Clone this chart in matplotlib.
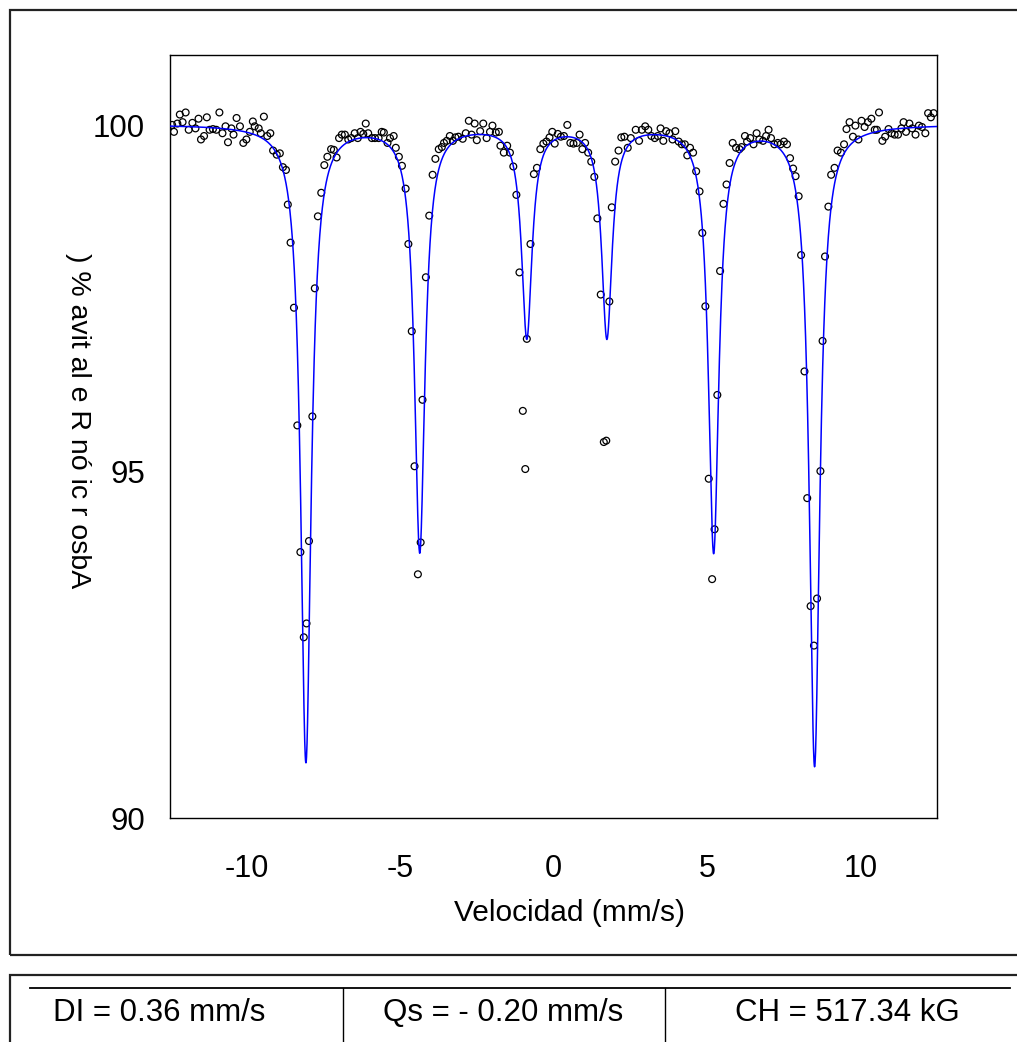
import matplotlib
matplotlib.use('Agg')
import matplotlib.pyplot as plt
import numpy as np
from matplotlib.patches import Rectangle
from matplotlib.lines import Line2D

plt.rcParams['font.family'] = ['Liberation Sans', 'DejaVu Sans']
plt.rcParams['axes.unicode_minus'] = False

# measured spectrum (velocity mm/s, relative absorption %)
vel = [
    -12.43, -12.37, -12.26, -12.18, -12.09, -11.99, -11.89, -11.77, -11.67, -11.57,
    -11.49, -11.39, -11.30, -11.21, -11.10, -10.99, -10.89, -10.79, -10.69, -10.61,
    -10.50, -10.43, -10.33, -10.22, -10.11, -10.01, -9.90, -9.80, -9.74, -9.61,
    -9.54, -9.44, -9.33, -9.23, -9.14, -9.02, -8.92, -8.82, -8.72, -8.66,
    -8.57, -8.46, -8.35, -8.25, -8.14, -8.05, -7.97, -7.86, -7.78, -7.68,
    -7.57, -7.47, -7.37, -7.25, -7.16, -7.07, -6.99, -6.90, -6.80, -6.69,
    -6.59, -6.48, -6.38, -6.29, -6.20, -6.12, -6.04, -5.92, -5.82, -5.70,
    -5.60, -5.53, -5.41, -5.33, -5.21, -5.14, -5.04, -4.94, -4.82,
    -4.73, -4.62, -4.53, -4.42, -4.33, -4.27, -4.16, -4.05,
    -3.94, -3.85, -3.74, -3.64, -3.57, -3.48, -3.38, -3.28, -3.20, -3.10,
    -2.96, -2.86, -2.76, -2.67, -2.57, -2.50, -2.39, -2.29, -2.18, -2.07,
    -1.99, -1.88, -1.78, -1.73, -1.62, -1.51, -1.42, -1.31, -1.21,
    -1.11, -1.00, -0.92, -0.87, -0.75,
    -0.64, -0.54, -0.43, -0.33, -0.23, -0.13, -0.04, 0.04, 0.14, 0.24,
    0.34, 0.45, 0.55, 0.65, 0.76, 0.85, 0.94, 1.03, 1.13, 1.23, 1.33, 1.43,
    1.54, 1.64, 1.72, 1.82, 1.90,
    2.01, 2.12, 2.21, 2.31, 2.42, 2.52, 2.68, 2.79, 2.88, 2.99,
    3.09, 3.19, 3.30, 3.40, 3.49, 3.58, 3.67, 3.78, 3.88, 3.97,
    4.08, 4.18, 4.28, 4.36, 4.45, 4.55, 4.65, 4.76, 4.85, 4.95,
    5.06, 5.17, 5.25, 5.34, 5.43, 5.54,
    5.64, 5.74, 5.84, 5.95, 6.06, 6.13, 6.24, 6.31, 6.41, 6.52,
    6.62, 6.71, 6.83, 6.93, 7.01, 7.09, 7.20, 7.31, 7.40, 7.51,
    7.61, 7.71, 7.81, 7.89, 7.99, 8.07,
    8.18, 8.27, 8.38, 8.49, 8.59, 8.70, 8.77, 8.85,
    8.96, 9.05, 9.16, 9.26, 9.37, 9.47, 9.55, 9.65, 9.76, 9.84,
    9.94, 10.04, 10.14, 10.25, 10.36, 10.47, 10.54, 10.61, 10.72, 10.81,
    10.92, 11.02, 11.12, 11.23, 11.34, 11.41, 11.49, 11.60, 11.69, 11.80,
    11.91, 12.01, 12.12, 12.21, 12.30, 12.39,
]
absorb = [
    100.01, 99.91, 100.03, 100.16, 100.05, 100.19, 99.94, 100.04, 99.96, 100.10,
    99.80, 99.85, 100.12, 99.94, 99.95, 99.94, 100.19, 99.89, 99.99, 99.76,
    99.96, 99.87, 100.11, 99.99, 99.75, 99.80, 99.91, 100.06, 99.99, 99.96,
    99.89, 100.13, 99.85, 99.89, 99.64, 99.58, 99.60, 99.40, 99.36, 98.86,
    98.31, 97.37, 95.67, 93.84, 92.61, 92.81, 94.00, 95.80, 97.65, 98.69,
    99.03, 99.43, 99.55, 99.66, 99.65, 99.54, 99.82, 99.87, 99.87, 99.80,
    99.82, 99.89, 99.82, 99.91, 99.88, 100.03, 99.89, 99.82, 99.82, 99.82,
    99.91, 99.90, 99.75, 99.82, 99.85, 99.68, 99.55, 99.42, 99.09,
    98.29, 97.03, 95.08, 93.52, 93.98, 96.04, 97.81, 98.70,
    99.29, 99.52, 99.66, 99.69, 99.75, 99.78, 99.85, 99.78, 99.83, 99.84,
    99.81, 99.89, 100.07, 99.87, 100.03, 99.79, 99.92, 100.03, 99.82, 99.91,
    100.00, 99.90, 99.91, 99.71, 99.61, 99.71, 99.61, 99.41, 99.00,
    97.88, 95.88, 95.04, 96.92, 98.29,
    99.30, 99.39, 99.66, 99.74, 99.77, 99.83, 99.91, 99.74, 99.88, 99.84,
    99.85, 100.01, 99.75, 99.74, 99.75, 99.87, 99.66, 99.75, 99.61, 99.48, 99.26, 98.66,
    97.56, 95.43, 95.45, 97.46, 98.82,
    99.48, 99.64, 99.83, 99.84, 99.68, 99.82, 99.94, 99.78, 99.94, 99.99,
    99.94, 99.85, 99.82, 99.85, 99.96, 99.78, 99.92, 99.89, 99.80, 99.92,
    99.77, 99.73, 99.73, 99.57, 99.68, 99.61, 99.34, 99.05, 98.45, 97.39,
    94.90, 93.45, 94.17, 96.11, 97.90, 98.87,
    99.15, 99.46, 99.75, 99.68, 99.66, 99.69, 99.85, 99.77, 99.82, 99.73,
    99.89, 99.80, 99.78, 99.85, 99.94, 99.82, 99.73, 99.75, 99.73, 99.77,
    99.73, 99.53, 99.38, 99.27, 98.98, 98.13,
    96.45, 94.62, 93.06, 92.49, 93.17, 95.01, 96.89, 98.11,
    98.83, 99.29, 99.39, 99.64, 99.61, 99.73, 99.95, 100.05, 99.84, 100.00,
    99.80, 100.07, 99.98, 100.05, 100.10, 99.94, 99.94, 100.19, 99.78, 99.84,
    99.95, 99.89, 99.87, 99.87, 99.96, 100.05, 99.91, 100.03, 99.96, 99.87,
    100.00, 99.98, 99.89, 100.18, 100.12, 100.18,
]

# fitted sextet: line positions, depths and half widths
baseline = 100.02
line_pos = [-8.07, -4.36, -0.87, 1.74, 5.22, 8.51]
line_depth = [9.2, 6.15, 3.05, 3.05, 6.15, 9.25]
line_hwhm = [0.205, 0.205, 0.205, 0.205, 0.205, 0.205]

params_text = ['DI = 0.36 mm/s', 'Qs = - 0.20 mm/s', 'CH = 517.34 kG']
ylabel_text = ') % avit al e R nó ic r osbA'


def sextet(v):
    y = np.full_like(v, baseline)
    for p, d, g in zip(line_pos, line_depth, line_hwhm):
        y -= d / (1 + ((v - p) / g) ** 2)
    return y


def main():
    W, H = 1017, 1042
    fig = plt.figure(figsize=(W / 100, H / 100), dpi=100)

    ax = fig.add_axes([170 / W, 1 - 818 / H, 767 / W, 763 / H])
    ax.scatter(vel, absorb, s=24, facecolors='none', edgecolors='black',
               linewidths=0.9, zorder=2)
    vv = np.linspace(-12.5, 12.5, 3001)
    ax.plot(vv, sextet(vv), color='blue', lw=1.1, zorder=3)

    ax.set_xlim(-12.5, 12.5)
    ax.set_ylim(90, 101.02)
    ax.set_xticks([-10, -5, 0, 5, 10])
    ax.set_yticks([90, 95, 100])
    ax.tick_params(axis='x', length=0, pad=26, labelsize=22)
    ax.tick_params(axis='y', length=0, pad=18, labelsize=22.5)
    for s in ax.spines.values():
        s.set_linewidth(1.0)
    ax.set_xlabel('Velocidad (mm/s)', fontsize=21.5)
    ax.xaxis.set_label_coords((569 - 170) / 767, -(899 - 818) / 763)

    fig.text(78 / W, 1 - 421 / H, ylabel_text, rotation=-90, fontsize=20.5,
             ha='center', va='center')

    # outer frames
    fig.add_artist(Rectangle((10 / W, 1 - 955 / H), 1.2, 945 / H, transform=fig.transFigure,
                             fill=False, edgecolor='#222222', lw=1.6))
    fig.add_artist(Rectangle((10 / W, -0.2), 1.2, 0.2 + 1 - 975 / H, transform=fig.transFigure,
                             fill=False, edgecolor='#222222', lw=1.6))

    # parameter table
    fig.add_artist(Line2D([30 / W, 1010 / W], [1 - 988 / H, 1 - 988 / H],
                          transform=fig.transFigure, color='black', lw=1.3))
    for xv in [343, 665]:
        fig.add_artist(Line2D([xv / W, xv / W], [1 - 988 / H, 0],
                              transform=fig.transFigure, color='black', lw=1.0))
    for xc, t in zip([159, 503, 847], params_text):
        fig.text(xc / W, 1 - 1013 / H, t, fontsize=22.5, ha='center', va='center')

    fig.savefig('out.png', dpi=100)


main()
